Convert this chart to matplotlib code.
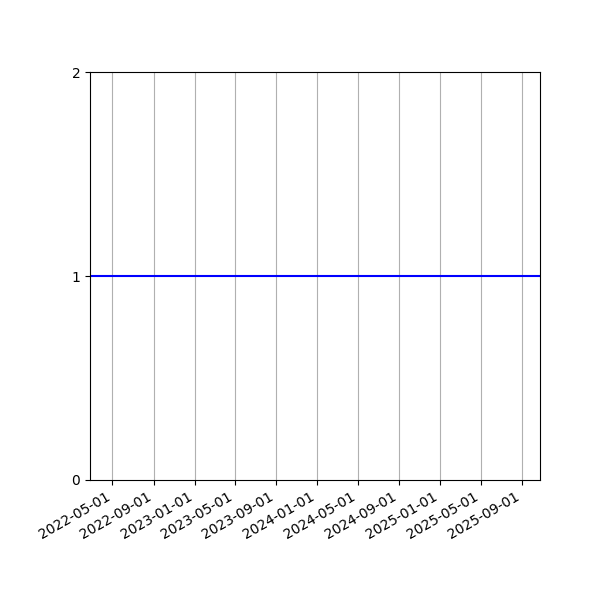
import matplotlib
matplotlib.use('Agg')
import matplotlib.pyplot as plt
import matplotlib.dates as mdates
import pandas as pd

# series
dates = ['2022-02-24', '2025-10-25']
values = [1.0, 1.0]

yticks = [0, 1, 2]

dt = pd.to_datetime(dates)

fig, ax = plt.subplots(figsize=(6, 6), dpi=100)
ax.plot(dt, values, color='blue')
ax.set_xlim(dt[0], dt[-1])
ax.set_ylim(0, 2)
ax.set_yticks(yticks)
ax.xaxis.set_major_locator(mdates.MonthLocator(bymonth=[1, 5, 9], bymonthday=1))
ax.xaxis.set_major_formatter(mdates.DateFormatter('%Y-%m-%d'))
ax.grid(True, axis='x', color='#b0b0b0')
fig.autofmt_xdate()
fig.subplots_adjust(left=0.15, right=0.9, top=0.88, bottom=0.2)
fig.savefig('out.png')
